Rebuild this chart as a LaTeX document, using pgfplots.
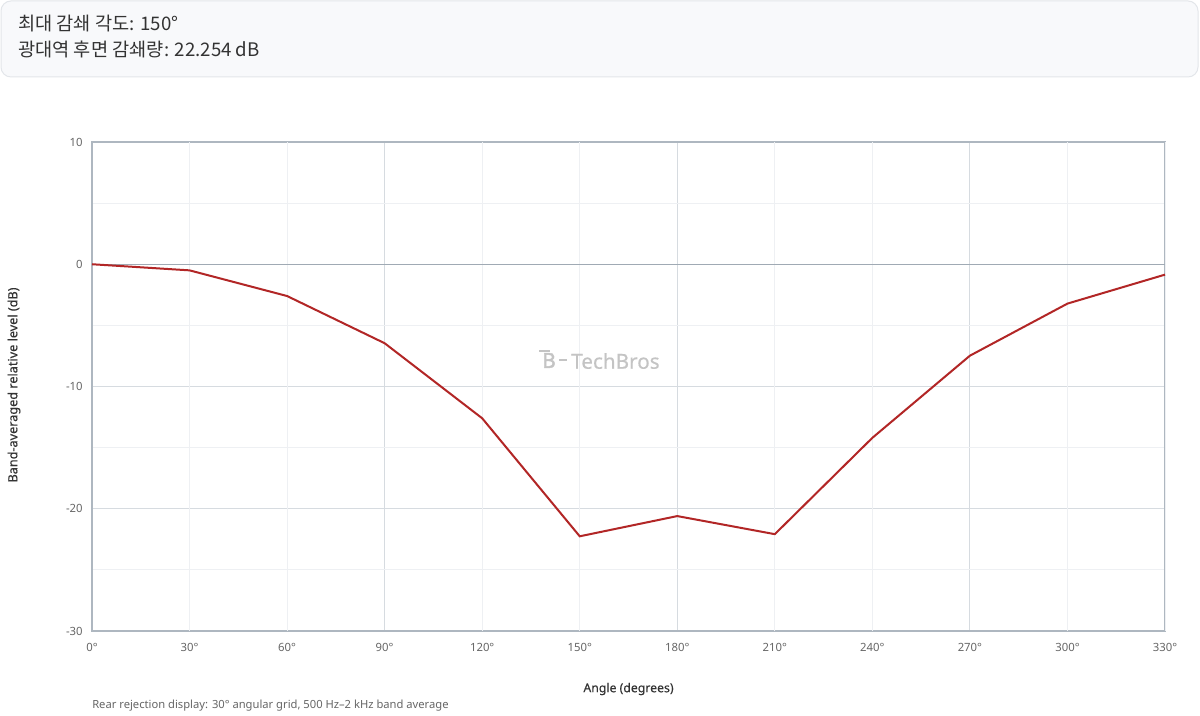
\documentclass[border=0pt]{standalone}
\usepackage{pgfplots}
\pgfplotsset{compat=1.18}
\usepackage{fontspec}
\setmainfont{Noto Sans}
\newfontfamily\kr{Noto Sans CJK KR}
\newfontfamily\medfont{Noto Sans}[FakeBold=0.35]
\newfontfamily\heavyfont{Noto Sans}[FakeBold=2]
\definecolor{boxfill}{HTML}{F8F9FB}
\definecolor{boxdraw}{HTML}{E3E6EA}
\definecolor{axiscol}{HTML}{AEB7C0}
\definecolor{zerocol}{HTML}{A0AAB4}
\definecolor{gridmaj}{HTML}{D6DBE0}
\definecolor{gridmin}{HTML}{EEF0F3}
\definecolor{linecol}{RGB}{178,38,38}
\definecolor{ticktext}{HTML}{666666}
\definecolor{labtext}{HTML}{333333}
\definecolor{wm}{HTML}{C4C4C4}
\pgfplotstableread{
ang val
0 0
30 -0.5
60 -2.6
90 -6.46
120 -12.6
150 -22.254
180 -20.6
210 -22.08
240 -14.2
270 -7.48
300 -3.22
330 -0.85
}\datatable
\begin{document}
\begin{tikzpicture}[x=0.75pt,y=0.75pt]
\useasboundingbox (0,0) rectangle (1200,716);
\fill[white] (0,0) rectangle (1200,716);
% header box
\draw[draw=boxdraw, fill=boxfill, line width=0.75pt, rounded corners=7.5pt] (1,715) rectangle (1198,639);
\node[anchor=west, text=labtext, font=\kr\fontsize{14}{16}\selectfont, inner sep=0pt] at (18,692) {최대 감쇄 각도: 150°};
\node[anchor=west, text=labtext, font=\kr\fontsize{14}{16}\selectfont, inner sep=0pt] at (18,667) {광대역 후면 감쇄량: 22.254 dB};
\begin{axis}[
  at={(69pt,63.75pt)}, anchor=south west,
  scale only axis, width=804.75pt, height=366.75pt,
  xmin=0, xmax=330, ymin=-30, ymax=10,
  axis line style={draw=axiscol, line width=1.1pt},
  major tick length=0pt, minor tick length=0pt,
  xtick={0,90,180,270}, xticklabels={0°,90°,180°,270°},
  extra x ticks={30,60,120,150,210,240,300,330},
  extra x tick labels={30°,60°,120°,150°,210°,240°,300°,330°},
  extra x tick style={grid=major, major grid style={draw=gridmin, line width=0.75pt}},
  xmajorgrids,
  ytick={-30,-20,-10,10},
  minor ytick={-25,-15,-5,5},
  extra y ticks={0}, extra y tick labels={0},
  extra y tick style={grid=major, major grid style={draw=zerocol, line width=1.1pt}},
  ymajorgrids, yminorgrids,
  major grid style={draw=gridmaj, line width=0.75pt},
  minor grid style={draw=gridmin, line width=0.75pt},
  tick label style={text=ticktext, font=\fontsize{8.5}{10}\selectfont},
  xticklabel style={yshift=-6pt},
  yticklabel style={xshift=-3.5pt},
  /pgf/number format/assume math mode=true,
  clip=false,
]
\addplot[draw=linecol, line width=1.5pt, mark=none] table[x=ang, y=val] {\datatable};
\end{axis}
% watermark
\node[anchor=west, text=wm, font=\medfont\fontsize{15.5}{17}\selectfont, inner sep=0pt] at (571,355) {TechBros};
\node[anchor=west, text=wm, font=\heavyfont\fontsize{15.5}{16}\selectfont, inner sep=0pt] at (542,355.5) {B};
\draw[wm, line width=2.2pt] (539,365) -- (550,365);
\draw[wm, line width=2.2pt] (559,356) -- (567,356);
% axis labels
\node[text=labtext, font=\medfont\fontsize{9.2}{11}\selectfont, inner sep=0pt] at (628.5,27) {Angle (degrees)};
\node[text=labtext, font=\medfont\fontsize{9.5}{11}\selectfont, inner sep=0pt, rotate=90] at (14,331) {Band-averaged relative level (dB)};
\node[anchor=west, text=ticktext, font=\fontsize{8.4}{10}\selectfont, inner sep=0pt] at (92,10) {Rear rejection display: 30° angular grid, 500 Hz–2 kHz band average};
\end{tikzpicture}
\end{document}
